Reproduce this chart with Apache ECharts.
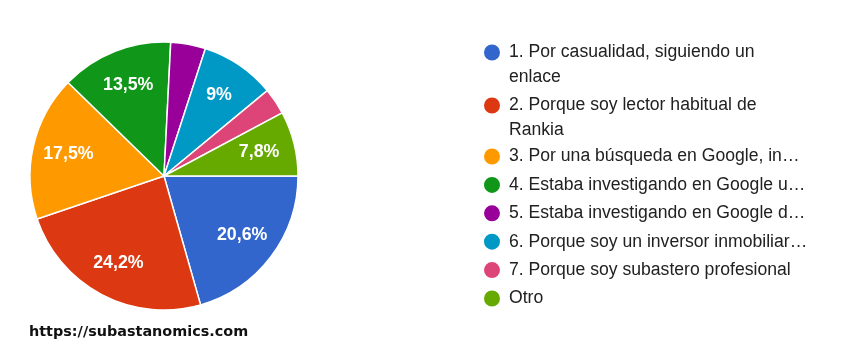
<!DOCTYPE html>
<html>
<head>
<meta charset="utf-8">
<script src="https://cdn.jsdelivr.net/npm/echarts@6/dist/echarts.min.js"></script>
<style>
html,body{margin:0;padding:0;background:#fff;}
#chart{width:859px;height:358px;}
</style>
</head>
<body>
<div id="chart"></div>
<script>
// Data
const categories = [
  '1. Por casualidad, siguiendo un enlace',
  '2. Porque soy lector habitual de Rankia',
  '3. Por una búsqueda en Google, in…',
  '4. Estaba investigando en Google u…',
  '5. Estaba investigando en Google d…',
  '6. Porque soy un inversor inmobiliar…',
  '7. Porque soy subastero profesional',
  'Otro'
];
const values = [20.6, 24.2, 17.5, 13.5, 4.2, 9, 3.2, 7.8];
const colors = ['#3366cc', '#dc3912', '#ff9900', '#109618', '#990099', '#0099c6', '#dd4477', '#66aa00'];
const wrapped = {
  '1. Por casualidad, siguiendo un enlace': '1. Por casualidad, siguiendo un\nenlace',
  '2. Porque soy lector habitual de Rankia': '2. Porque soy lector habitual de\nRankia'
};
const sourceText = 'https://subastanomics.com';

const chart = echarts.init(document.getElementById('chart'), null, {renderer: 'canvas'});

const cx = 164, cy = 176, R = 134;
const pieData = categories.map((c, i) => ({name: c, value: values[i], itemStyle: {color: colors[i]}}));

// tall icon: circle at top of a 18x50 box
const tallIcon = 'path://M0,12.5 A9,9 0 1,1 18,12.5 A9,9 0 1,1 0,12.5 Z M0,0 L0.01,0 M0,50 L0.01,50';

const legendText = {
  fontFamily: 'Liberation Sans, Arial, sans-serif',
  fontSize: 17.6,
  color: '#212121',
  lineHeight: 25,
  padding: [0, 0, 0, 3]
};

chart.setOption({
  animation: false,
  color: colors,
  legend: [
    {
      orient: 'vertical',
      left: 482,
      top: 39,
      padding: 0,
      itemWidth: 18,
      itemHeight: 50,
      itemGap: 1,
      icon: tallIcon,
      selectedMode: false,
      data: categories.slice(0, 2),
      formatter: n => wrapped[n] || n,
      textStyle: legendText
    },
    {
      orient: 'vertical',
      left: 482,
      top: 144,
      padding: 0,
      itemWidth: 18,
      itemHeight: 25,
      itemGap: 3.4,
      icon: 'circle',
      selectedMode: false,
      data: categories.slice(2),
      textStyle: legendText
    }
  ],
  series: [
    {
      type: 'pie',
      center: [cx, cy],
      radius: [0, R],
      startAngle: 0,
      clockwise: true,
      silent: true,
      label: {show: false},
      labelLine: {show: false},
      itemStyle: {borderColor: '#fff', borderWidth: 1.5},
      data: pieData
    },
    {
      type: 'pie',
      center: [cx, cy],
      radius: [56, R],
      startAngle: 0,
      clockwise: true,
      silent: true,
      legendHoverLink: false,
      itemStyle: {color: 'rgba(0,0,0,0)', borderWidth: 0},
      label: {
        show: true,
        position: 'inside',
        color: '#fff',
        fontFamily: 'Liberation Sans, Arial, sans-serif',
        fontWeight: 'bold',
        fontSize: 17.8,
        formatter: p => p.value >= 5 ? String(p.value).replace('.', ',') + '%' : ''
      },
      labelLine: {show: false},
      data: categories.map((c, i) => ({name: c, value: values[i]}))
    }
  ],
  graphic: [
    {
      type: 'text',
      left: 29,
      top: 325,
      style: {
        text: sourceText,
        fontFamily: 'DejaVu Sans, Verdana, sans-serif',
        fontWeight: 'bold',
        fontSize: 14.4,
        fill: '#111'
      }
    }
  ]
});
</script>
</body>
</html>
